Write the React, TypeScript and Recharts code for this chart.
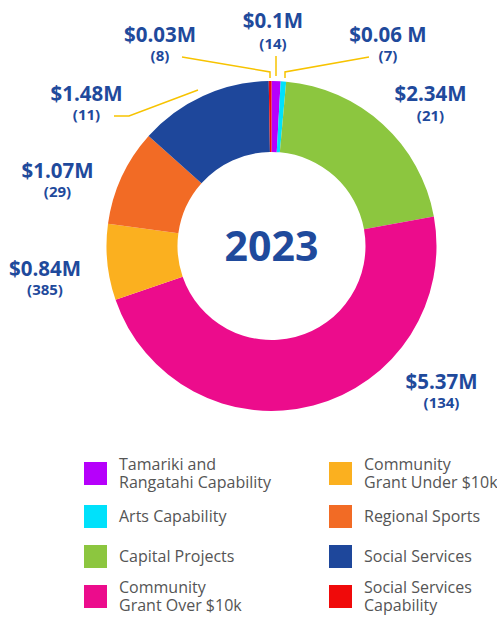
import { PieChart, Pie, Cell } from 'recharts';

// 2023 funding by fund — amounts in $M, counts = number of grants
const CATEGORIES = [
  'Tamariki and Rangatahi Capability',
  'Arts Capability',
  'Capital Projects',
  'Community Grant Over $10k',
  'Community Grant Under $10k',
  'Regional Sports',
  'Social Services',
  'Social Services Capability',
];
const AMOUNTS = [0.1, 0.06, 2.34, 5.37, 0.84, 1.07, 1.48, 0.03];
const COUNTS = [14, 7, 21, 134, 385, 29, 11, 8];
const AMOUNT_LABELS = ['$0.1M', '$0.06 M', '$2.34M', '$5.37M', '$0.84M', '$1.07M', '$1.48M', '$0.03M'];
const LEGEND_LINES = [
  ['Tamariki and', 'Rangatahi Capability'],
  ['Arts Capability'],
  ['Capital Projects'],
  ['Community', 'Grant Over $10k'],
  ['Community', 'Grant Under $10k'],
  ['Regional Sports'],
  ['Social Services'],
  ['Social Services', 'Capability'],
];

const COLORS = ['#b600fb', '#00e1fb', '#8cc63f', '#ec0c8c', '#fbb01f', '#f26b25', '#1e479b', '#f00a0a'];
const BLUE = '#1f4a9c';
const LINE = '#f7c300';
const FONT = '"Open Sans", sans-serif';

// label placement relative to pie centre (x of text centre, baselines, leader line)
const LABEL_LAYOUT: { x: number; big: number; count: number; line?: [number, number][] }[] = [
  { x: 1.5, big: -218, count: -197, line: [[4.5, -190], [4.5, -170]] },
  { x: 116.5, big: -204, count: -185, line: [[97.5, -189], [13.5, -174], [13.5, -168]] },
  { x: 159, big: -145, count: -125 },
  { x: 170, big: 143, count: 162 },
  { x: -226.5, big: 30, count: 49 },
  { x: -214, big: -68, count: -49 },
  { x: -185, big: -145, count: -126, line: [[-157.5, -130], [-142.5, -130], [-73.5, -156]] },
  { x: -111.5, big: -204, count: -185, line: [[-89.5, -189], [-1.5, -174], [-1.5, -168]] },
];

const data = CATEGORIES.map((name, i) => ({ name, value: AMOUNTS[i], count: COUNTS[i] }));

function renderLabel(props: any) {
  const { cx, cy, index } = props;
  const l = LABEL_LAYOUT[index];
  return (
    <g key={`lbl-${index}`}>
      {l.line && (
        <polyline
          points={l.line.map(([x, y]) => `${cx + x},${cy + y}`).join(' ')}
          fill="none"
          stroke={LINE}
          strokeWidth={1.5}
        />
      )}
      <text x={cx + l.x} y={cy + l.big} textAnchor="middle" fill={BLUE} fontFamily={FONT} fontWeight={700} fontSize={20.5}>
        {AMOUNT_LABELS[index]}
      </text>
      <text x={cx + l.x} y={cy + l.count} textAnchor="middle" fill={BLUE} fontFamily={FONT} fontWeight={700} fontSize={15}>
        ({COUNTS[index]})
      </text>
    </g>
  );
}

export default function App() {
  return (
    <div style={{ position: 'absolute', left: 0, top: 0, width: 497, height: 621, background: '#fff', overflow: 'hidden' }}>
      <PieChart width={497} height={440} margin={{ top: 0, right: 0, bottom: 0, left: 0 }}>
        <Pie
          data={data}
          dataKey="value"
          nameKey="name"
          cx={271.5}
          cy={246}
          innerRadius={94}
          outerRadius={165}
          startAngle={90}
          endAngle={-270}
          stroke="none"
          label={renderLabel}
          labelLine={false}
          isAnimationActive={false}
        >
          {data.map((d, i) => (
            <Cell key={d.name} fill={COLORS[i]} />
          ))}
        </Pie>
        <text x={271.5} y={261} textAnchor="middle" fill={BLUE} fontFamily={FONT} fontWeight={700} fontSize={41}>
          2023
        </text>
      </PieChart>
      <div
        style={{
          position: 'absolute',
          left: 84,
          top: 450,
          display: 'grid',
          gridAutoFlow: 'column',
          gridTemplateRows: '46px 40px 40px 40px',
          gridTemplateColumns: '245px 180px',
          fontFamily: FONT,
          fontSize: 16,
          lineHeight: '18px',
          color: '#555',
        }}
      >
        {CATEGORIES.map((name, i) => (
          <div key={name} style={{ display: 'flex', alignItems: 'center' }}>
            <span style={{ width: 23, height: 23, background: COLORS[i], flex: 'none', marginRight: 12 }} />
            <span style={{ whiteSpace: 'nowrap' }}>
              {LEGEND_LINES[i].map((t) => (
                <div key={t}>{t}</div>
              ))}
            </span>
          </div>
        ))}
      </div>
    </div>
  );
}
